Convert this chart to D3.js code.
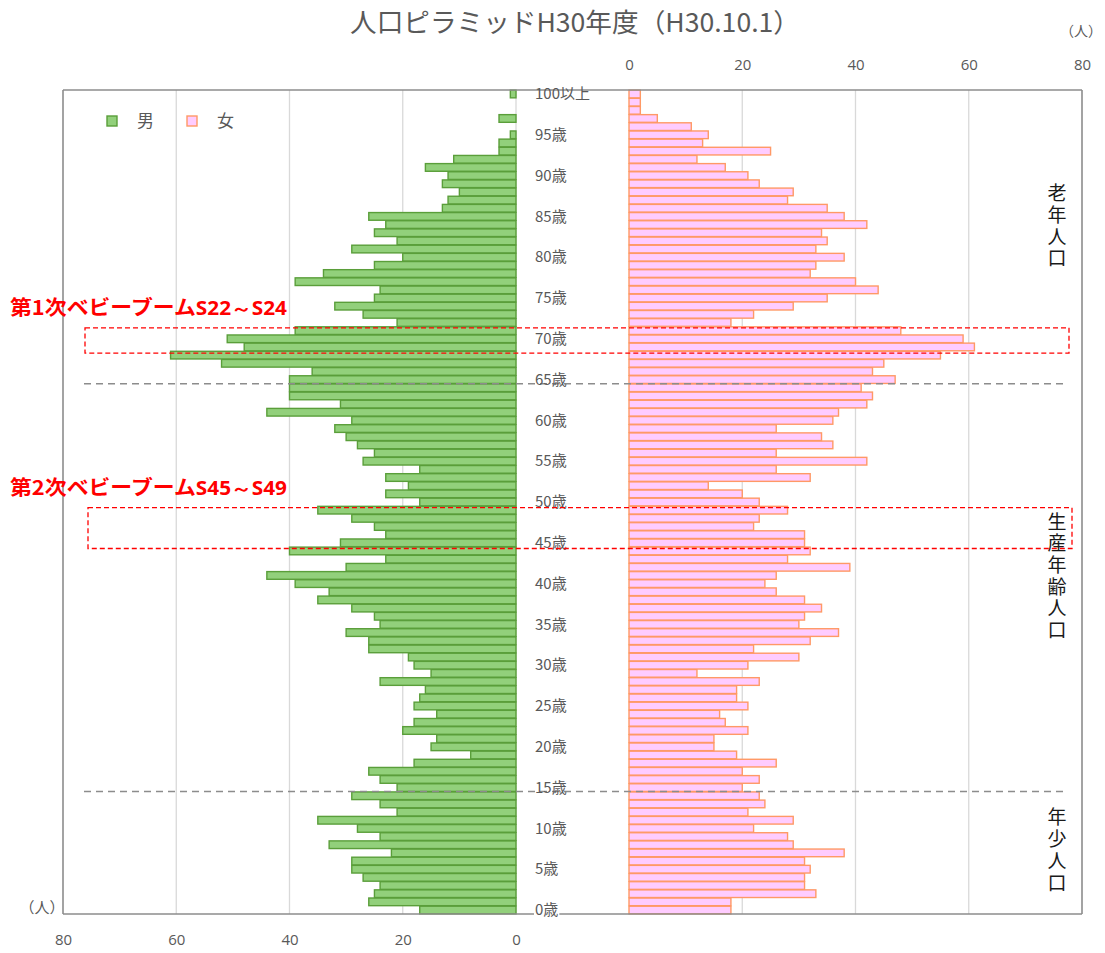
<!DOCTYPE html>
<html>
<head>
<meta charset="utf-8">
<script src="https://cdn.jsdelivr.net/npm/d3@7"></script>
<style>
  html, body { margin: 0; padding: 0; background: #fff; }
  svg { display: block; font-family: "Noto Sans CJK JP", "Noto Sans", sans-serif; }
</style>
</head>
<body>
<svg id="chart" width="1105" height="953"></svg>
<script>
// Population by single year of age (0 .. 100+), as of H30.10.1
const ages = d3.range(0, 101);
const ageLabelEvery = 5;

const male = [
  17, 26, 25, 24, 27, 29, 29, 22, 33, 24,
  28, 35, 21, 24, 29, 21, 24, 26, 18, 8,
  15, 14, 20, 18, 14, 18, 17, 16, 24, 15,
  18, 19, 26, 26, 30, 24, 25, 29, 35, 33,
  39, 44, 30, 23, 40, 31, 23, 25, 29, 35,
  17, 23, 19, 23, 17, 27, 25, 28, 30, 32,
  29, 44, 31, 40, 40, 40, 36, 52, 61, 48,
  51, 39, 21, 27, 32, 25, 24, 39, 34, 25,
  20, 29, 21, 25, 23, 26, 13, 12, 10, 13,
  12, 16, 11, 3, 3, 1, 0, 3, 0, 0,
  1
];

const female = [
  18, 18, 33, 31, 31, 32, 31, 38, 29, 28,
  22, 29, 21, 24, 23, 20, 23, 20, 26, 19,
  15, 15, 21, 17, 16, 21, 19, 19, 23, 12,
  21, 30, 22, 32, 37, 30, 31, 34, 31, 26,
  24, 26, 39, 28, 32, 31, 31, 22, 23, 28,
  23, 20, 14, 32, 26, 42, 26, 36, 34, 26,
  36, 37, 42, 43, 41, 47, 43, 45, 55, 61,
  59, 48, 18, 22, 29, 35, 44, 40, 32, 33,
  38, 33, 35, 34, 42, 38, 35, 28, 29, 23,
  21, 17, 12, 25, 13, 14, 11, 5, 2, 2,
  2
];

const xTicks = [0, 20, 40, 60, 80];
const seriesNames = ["男", "女"];

// Age-group boundaries (dashed separators) and bracket labels
const groupBoundaries = [65, 15];
const groupLabels = [
  { text: "老年人口", centerAge: 84.2 },
  { text: "生産年齢人口", centerAge: 41.3 },
  { text: "年少人口", centerAge: 7.7 }
];

// Baby-boom callouts: age span covered by the highlight box
const boomNotes = [
  { text: "第1次ベビーブーム", era: "S22～S24", fromAge: 68.75, toAge: 71.85 },
  { text: "第2次ベビーブーム", era: "S45～S49", fromAge: 44.8, toAge: 49.8 }
];

const svg = d3.select("#chart");

const plotTop = 90, plotBottom = 914;
const leftOuter = 63, leftZero = 516, rightZero = 629, rightOuter = 1082;

const y = d3.scaleBand()
  .domain(ages.slice().reverse())
  .range([plotTop, plotBottom])
  .paddingInner(0.06)
  .paddingOuter(0.02);

// continuous age position (row boundaries) for annotations
const yAge = d3.scaleLinear().domain([0, 101]).range([plotBottom, plotTop]);

const xM = d3.scaleLinear().domain([0, 80]).range([leftZero, leftOuter]);
const xF = d3.scaleLinear().domain([0, 80]).range([rightZero, rightOuter]);

const textGray = "#595959";

// vertical gridlines
const grid = svg.append("g");
grid.selectAll("line.gm").data(xTicks.slice(0, 4)).join("line")
  .attr("x1", d => xM(d)).attr("x2", d => xM(d))
  .attr("y1", plotTop).attr("y2", plotBottom)
  .attr("stroke", "#d9d9d9").attr("stroke-width", 1.3);
grid.selectAll("line.gf").data(xTicks.slice(1, 4)).join("line")
  .attr("class", "gf")
  .attr("x1", d => xF(d)).attr("x2", d => xF(d))
  .attr("y1", plotTop).attr("y2", plotBottom)
  .attr("stroke", "#d9d9d9").attr("stroke-width", 1.3);

// bars
const bh = y.bandwidth();
svg.append("g").selectAll("rect").data(ages).join("rect")
  .attr("x", a => xM(male[a]))
  .attr("y", a => y(a))
  .attr("width", a => xM(0) - xM(male[a]))
  .attr("height", bh)
  .attr("fill", "#92d07b")
  .attr("stroke", "#5a9e3a")
  .attr("stroke-width", 1.4)
  .attr("display", a => male[a] > 0 ? null : "none");

svg.append("g").selectAll("rect").data(ages).join("rect")
  .attr("x", xF(0))
  .attr("y", a => y(a))
  .attr("width", a => xF(female[a]) - xF(0))
  .attr("height", bh)
  .attr("fill", "#ffccff")
  .attr("stroke", "#ff9966")
  .attr("stroke-width", 1.4)
  .attr("display", a => female[a] > 0 ? null : "none");

// frame
const frame = svg.append("g").attr("stroke", "#8c8c8c").attr("stroke-width", 1.6).attr("fill", "none");
frame.append("line").attr("x1", leftOuter).attr("x2", rightOuter).attr("y1", plotTop).attr("y2", plotTop);
frame.append("line").attr("x1", leftOuter).attr("x2", rightOuter).attr("y1", plotBottom).attr("y2", plotBottom);
frame.append("line").attr("x1", leftOuter).attr("x2", leftOuter).attr("y1", plotTop).attr("y2", plotBottom);
frame.append("line").attr("x1", rightOuter).attr("x2", rightOuter).attr("y1", plotTop).attr("y2", plotBottom);

// dashed separators between age groups
svg.append("g").selectAll("line").data(groupBoundaries).join("line")
  .attr("x1", 84).attr("x2", 1066)
  .attr("y1", d => yAge(d)).attr("y2", d => yAge(d))
  .attr("stroke", "#8c8c8c").attr("stroke-width", 1.5)
  .attr("stroke-dasharray", "7,5");

// age labels in the centre column
const ageTicks = ages.filter(a => a % ageLabelEvery === 0);
const ageG = svg.append("g");
ageTicks.forEach(a => {
  const label = a === 100 ? "100以上" : a + "歳";
  const cy = y(a) + bh / 2;
  const t = ageG.append("text")
    .attr("x", 535).attr("y", cy)
    .attr("dy", "0.35em")
    .attr("font-size", 15)
    .attr("fill", textGray)
    .text(label);
  if (a === 0) {
    const bb = t.node().getBBox();
    ageG.insert("rect", "text").attr("x", bb.x - 1).attr("y", bb.y).attr("width", bb.width + 2).attr("height", bb.height).attr("fill", "#fff");
  }
});

// top axis (female) and bottom axis (male)
const axTop = svg.append("g").attr("transform", "translate(0,70)")
  .call(d3.axisTop(xF).tickValues(xTicks).tickSize(0).tickPadding(0));
const axBot = svg.append("g").attr("transform", `translate(0,${plotBottom + 20})`)
  .call(d3.axisBottom(xM).tickValues(xTicks).tickSize(0).tickPadding(0));
[axTop, axBot].forEach(ax => {
  ax.select(".domain").remove();
  ax.selectAll("text")
    .attr("font-family", "'Open Sans', 'Noto Sans', sans-serif")
    .attr("font-size", 15).attr("fill", textGray);
});

// unit labels
svg.append("text").attr("x", 1102).attr("y", 36).attr("text-anchor", "end")
  .attr("font-size", 14).attr("fill", textGray).text("（人）");
svg.append("text").attr("x", 42).attr("y", 913).attr("text-anchor", "middle")
  .attr("font-size", 15).attr("fill", textGray).text("（人）");

// title
svg.append("text").attr("x", 575).attr("y", 32).attr("text-anchor", "middle")
  .attr("font-size", 26).attr("fill", textGray)
  .attr("textLength", 450).attr("lengthAdjust", "spacingAndGlyphs")
  .text("人口ピラミッドH30年度（H30.10.1）");

// legend
const legend = svg.append("g");
const legendItems = [
  { name: seriesNames[0], fill: "#92d07b", stroke: "#5a9e3a", x: 107 },
  { name: seriesNames[1], fill: "#ffccff", stroke: "#ff9966", x: 187 }
];
legendItems.forEach(it => {
  legend.append("rect").attr("x", it.x).attr("y", 116).attr("width", 10).attr("height", 10)
    .attr("fill", it.fill).attr("stroke", it.stroke).attr("stroke-width", 1.4);
  legend.append("text").attr("x", it.x + 30).attr("y", 121).attr("dy", "0.35em")
    .attr("font-size", 17).attr("fill", textGray).text(it.name);
});

// baby-boom highlight boxes and captions
boomNotes.forEach((n, i) => {
  const top = yAge(n.toAge), bottom = yAge(n.fromAge);
  const x0 = i === 0 ? 85 : 88, x1 = i === 0 ? 1069 : 1072;
  svg.append("rect").attr("x", x0).attr("y", top).attr("width", x1 - x0).attr("height", bottom - top)
    .attr("fill", "none").attr("stroke", "#ff0000").attr("stroke-width", 1.3).attr("stroke-dasharray", "5,3");
  const t = svg.append("text").attr("x", 10).attr("y", top - 18).attr("dy", "0.35em")
    .attr("font-weight", "bold").attr("fill", "#ff0000")
    .attr("textLength", 277).attr("lengthAdjust", "spacingAndGlyphs");
  t.append("tspan").attr("font-size", 20).text(n.text);
  t.append("tspan").attr("font-size", 19).attr("font-family", "'Open Sans', sans-serif").text(n.era);
});

// age-group labels, set vertically
groupLabels.forEach(g => {
  svg.append("text")
    .attr("x", 1057).attr("y", yAge(g.centerAge))
    .attr("writing-mode", "vertical-rl")
    .attr("text-anchor", "middle")
    .attr("font-size", 19)
    .attr("letter-spacing", 2.7)
    .attr("fill", "#1a1a1a")
    .text(g.text);
});
</script>
</body>
</html>
